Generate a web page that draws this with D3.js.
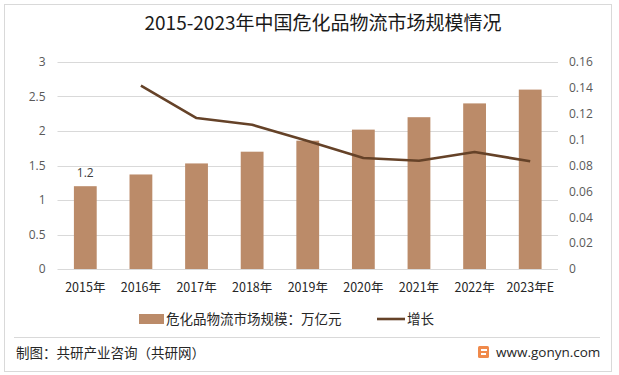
<!DOCTYPE html>
<html>
<head>
<meta charset="utf-8">
<script src="https://cdn.jsdelivr.net/npm/d3@7"></script>
<style>
	body { margin: 0; background: #fff; }
	svg text { font-family: "Noto Sans", "Noto Sans CJK SC", sans-serif; }
</style>
</head>
<body>
<svg id="container"></svg>
<script>
// chart data
const years = ['2015年', '2016年', '2017年', '2018年', '2019年', '2020年', '2021年', '2022年', '2023年E'];
const scale = [1.2, 1.37, 1.53, 1.70, 1.86, 2.02, 2.20, 2.40, 2.60];
const growth = [null, 0.1417, 0.1167, 0.1115, 0.099, 0.0858, 0.0837, 0.0904, 0.0833];
const leftTicks = [0, 0.5, 1, 1.5, 2, 2.5, 3];
const rightTicks = [0, 0.02, 0.04, 0.06, 0.08, 0.1, 0.12, 0.14, 0.16];

const W = 619, H = 375;
const margin = { top: 62, right: 61, bottom: 106, left: 57.5 };
const w = W - margin.left - margin.right,
	h = H - margin.top - margin.bottom;

const barColor = '#bb8b69', lineColor = '#654228';

var svg = d3.select('#container').attr('width', W).attr('height', H);

// outer frame
svg.append('rect')
	.attr('x', 4.5).attr('y', 4.5)
	.attr('width', 607).attr('height', 367)
	.attr('fill', 'none').attr('stroke', '#d9d9d9');

// title
svg.append('text')
	.attr('x', 323).attr('y', 30)
	.attr('text-anchor', 'middle')
	.attr('font-size', 19)
	.attr('fill', '#1a1a1a')
	.style('font-family', '"Noto Sans CJK SC", sans-serif')
	.text('2015-2023年中国危化品物流市场规模情况');

var focus = svg.append('g')
	.attr('transform', 'translate(' + margin.left + ',' + margin.top + ')');

var xBand = d3.scaleBand().domain(years).range([0, w])
	.paddingInner(0.59).paddingOuter(0.295);
var yLeft = d3.scaleLinear().domain([0, 3]).range([h, 0]);
var yRight = d3.scaleLinear().domain([0, 0.16]).range([h, 0]);

// gridlines
focus.selectAll('.grid')
	.data(leftTicks)
	.enter()
	.append('line')
	.attr('x1', 0).attr('x2', w)
	.attr('y1', d => Math.round(yLeft(d)) + 0.5)
	.attr('y2', d => Math.round(yLeft(d)) + 0.5)
	.attr('stroke', '#d9d9d9');

// left axis labels
var yAxisL = d3.axisLeft(yLeft).tickValues(leftTicks).tickSize(0).tickPadding(12).tickFormat(d3.format('~g'));
var gYL = focus.append('g').call(yAxisL);
gYL.select('.domain').remove();
gYL.selectAll('text').attr('font-size', 12).attr('fill', '#595959')
	.style('font-family', '"Open Sans", sans-serif');

// right axis labels
var yAxisR = d3.axisRight(yRight).tickValues(rightTicks).tickSize(0).tickPadding(11).tickFormat(d3.format('~g'));
var gYR = focus.append('g').attr('transform', 'translate(' + w + ',0)').call(yAxisR);
gYR.select('.domain').remove();
gYR.selectAll('text').attr('font-size', 12).attr('fill', '#595959')
	.style('font-family', '"Open Sans", sans-serif');

// x axis labels
var xAxis = d3.axisBottom(xBand).tickSize(0).tickPadding(14);
var gX = focus.append('g').attr('transform', 'translate(0,' + h + ')').call(xAxis);
gX.select('.domain').remove();
gX.selectAll('text').attr('font-size', 12.5).attr('fill', '#262626')
	.style('font-family', '"Noto Sans CJK SC", sans-serif');

// bars
focus.selectAll('.bar')
	.data(scale)
	.enter()
	.append('rect')
	.attr('x', (d, i) => xBand(years[i]))
	.attr('y', d => yLeft(d))
	.attr('width', xBand.bandwidth())
	.attr('height', d => h - yLeft(d))
	.attr('fill', barColor);

// data label on first bar
focus.append('text')
	.attr('x', xBand(years[0]) + xBand.bandwidth() / 2)
	.attr('y', yLeft(scale[0]) - 9)
	.attr('text-anchor', 'middle')
	.attr('font-size', 12).attr('fill', '#404040')
	.style('font-family', '"Open Sans", sans-serif')
	.text(scale[0]);

// growth line
var line = d3.line()
	.defined(d => d != null)
	.x((d, i) => xBand(years[i]) + xBand.bandwidth() / 2)
	.y(d => yRight(d));
focus.append('path')
	.datum(growth)
	.attr('d', line)
	.attr('fill', 'none')
	.attr('stroke', lineColor)
	.attr('stroke-width', 2.6)
	.attr('stroke-linejoin', 'round');

// legend
var legend = svg.append('g').attr('transform', 'translate(0,319)');
legend.append('rect').attr('x', 139).attr('y', -5).attr('width', 25).attr('height', 10).attr('fill', barColor);
legend.append('text').attr('x', 166).attr('y', 5).attr('font-size', 13.5).attr('fill', '#262626')
	.style('font-family', '"Noto Sans CJK SC", sans-serif')
	.text('危化品物流市场规模：万亿元');
legend.append('line').attr('x1', 377).attr('x2', 405).attr('y1', 0).attr('y2', 0)
	.attr('stroke', lineColor).attr('stroke-width', 2.6);
legend.append('text').attr('x', 407).attr('y', 5).attr('font-size', 13.5).attr('fill', '#262626')
	.style('font-family', '"Noto Sans CJK SC", sans-serif')
	.text('增长');

// footer
svg.append('line').attr('x1', 14).attr('x2', 600).attr('y1', 337.5).attr('y2', 337.5).attr('stroke', '#d9d9d9');
svg.append('text').attr('x', 16).attr('y', 358).attr('font-size', 13.5).attr('fill', '#262626')
	.style('font-family', '"Noto Sans CJK SC", sans-serif')
	.text('制图：共研产业咨询（共研网）');

// little logo mark
var logo = svg.append('g').attr('transform', 'translate(478,346)');
logo.append('rect').attr('width', 11).attr('height', 12).attr('rx', 1.5).attr('fill', '#f08a4b');
logo.append('rect').attr('x', 3).attr('y', 3).attr('width', 6).attr('height', 2).attr('fill', '#fff');
logo.append('rect').attr('x', 3).attr('y', 7).attr('width', 5).attr('height', 2).attr('fill', '#fff');
svg.append('text').attr('x', 496).attr('y', 357).attr('font-size', 13.5).attr('fill', '#262626')
	.style('font-family', '"Open Sans", sans-serif')
	.text('www.gonyn.com');
</script>
</body>
</html>
